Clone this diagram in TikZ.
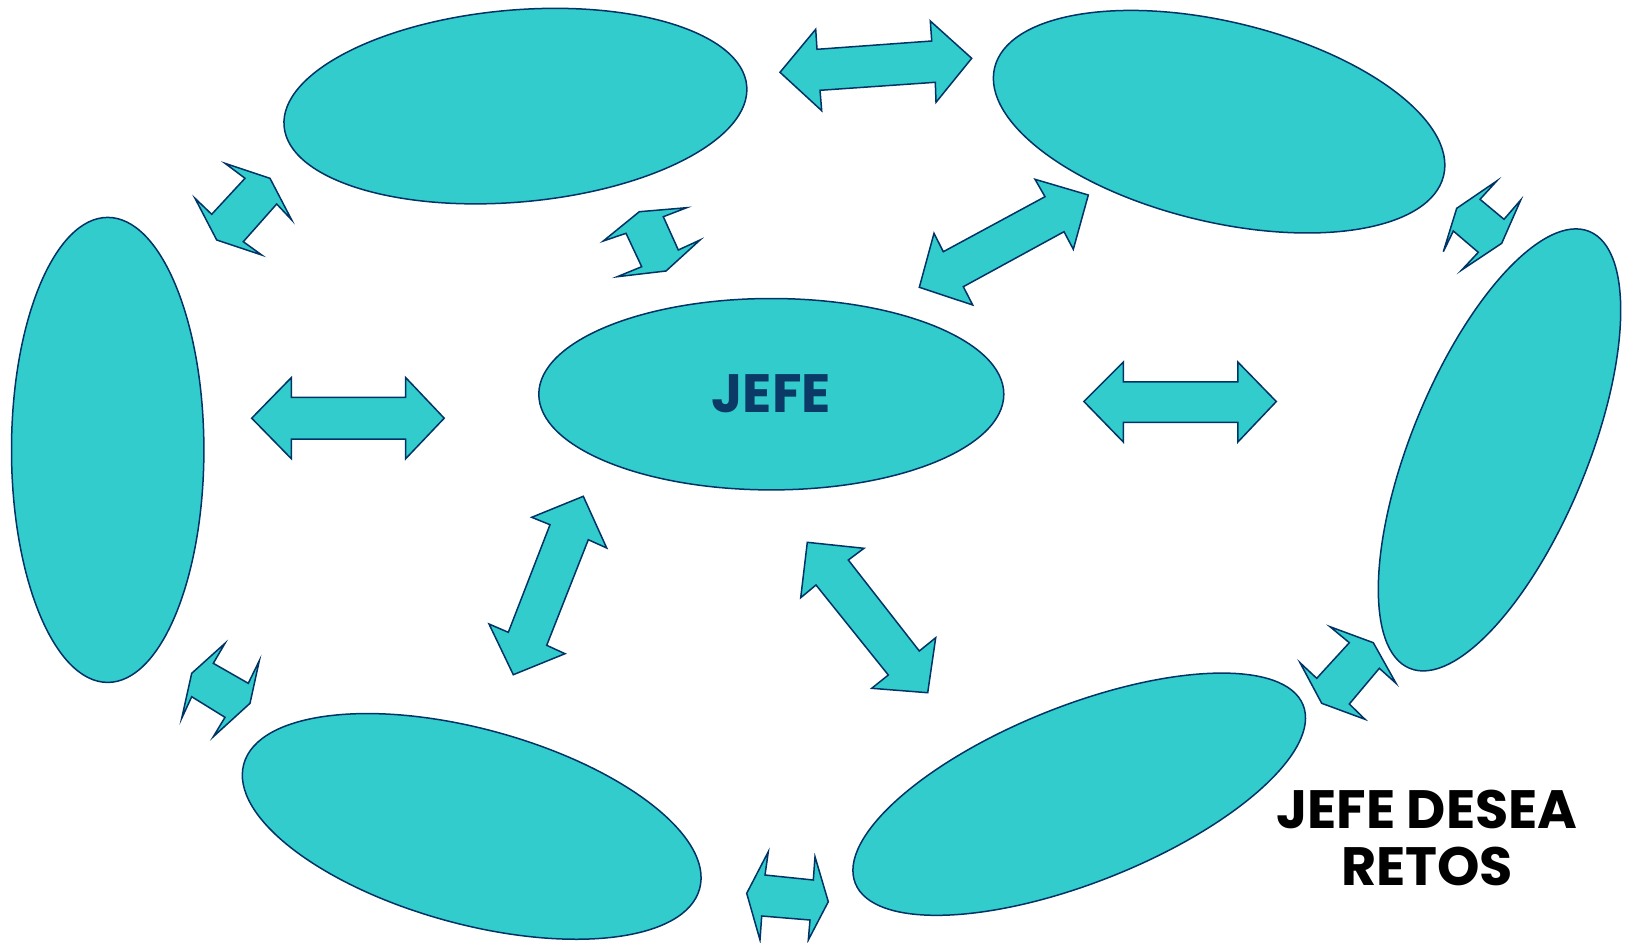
\documentclass[tikz,border=0pt]{standalone}
\usepackage{fontspec}
\setmainfont{Poppins}
\usetikzlibrary{shapes.geometric}
\definecolor{teal1}{RGB}{51,204,204}
\definecolor{navy1}{RGB}{0,51,102}
\definecolor{jefeblue}{RGB}{12,58,102}
\tikzset{
  bubble/.style={ellipse, draw=navy1, fill=teal1, line width=0.75pt, inner sep=0pt},
  blockarrow/.style={draw=navy1, fill=teal1, line width=0.75pt, line join=miter},
  lbl/.style={font=\fontsize{27}{28.75}\selectfont\bfseries, align=center, inner sep=0pt}
}
\begin{document}
\begin{tikzpicture}[x=0.5pt,y=-0.5pt]
\useasboundingbox (0,0) rectangle (1631,942);
% ellipses
\node[bubble, minimum width=232.5pt, minimum height=95.7pt] (e0) at (771.3,394.2) {};
\node[bubble, minimum width=232.2pt, minimum height=96pt, rotate=5] (e1) at (515.4,106.1) {};
\node[bubble, minimum width=230.9pt, minimum height=100.1pt, rotate=-13.5] (e2) at (1219.1,121.7) {};
\node[bubble, minimum width=96.2pt, minimum height=232.5pt] (e3) at (107.7,449.9) {};
\node[bubble, minimum width=236.2pt, minimum height=88pt, rotate=67.65] (e4) at (1499.5,449.9) {};
\node[bubble, minimum width=236.3pt, minimum height=97.5pt, rotate=-15.3] (e5) at (471.7,826.4) {};
\node[bubble, minimum width=241pt, minimum height=88.3pt, rotate=21.7] (e6) at (1079.2,794.2) {};
% texts
\node[lbl, text=jefeblue] (t0) at (771.3,393.7) {JEFE};
\node[lbl, text=black] (t1) at (1427,838) {JEFE DESEA\\RETOS};
% block arrows
% e1-e2
\draw[blockarrow] (780,72.3) -- (815.7,29.3) -- (817,49.3) -- (931.7,41) -- (930.3,21) -- (971.7,58.3) -- (936,102.3) -- (935.3,82.3) -- (820,90.3) -- (821.7,110.7) -- cycle;
% e1-e3
\draw[blockarrow] (225,163.3) -- (270,178.3) -- (291.7,220) -- (276.7,204) -- (243.3,241.7) -- (261.7,255) -- (216.7,240) -- (195,198.3) -- (211.7,214.3) -- (245,178.3) -- cycle;
% e1-e0
\draw[blockarrow] (603.3,241) -- (639.3,211.7) -- (686.7,207.7) -- (663.3,216.7) -- (678.3,250) -- (700,240) -- (666,271) -- (617.3,276.7) -- (641.7,266.7) -- (626,233.3) -- cycle;
% e2-e0
\draw[blockarrow] (919.3,287.3) -- (934,233.3) -- (943.3,251.7) -- (1045,196.7) -- (1035,179.3) -- (1088.3,195) -- (1073.3,249.3) -- (1064,231.7) -- (963.3,286.7) -- (972.7,305) -- cycle;
% e2-e4
\draw[blockarrow] (1456.7,208.3) -- (1496.7,181) -- (1480,199.3) -- (1504,219.3) -- (1520.7,200) -- (1501.7,243.3) -- (1461.7,270) -- (1478.3,252.3) -- (1453.3,231) -- (1443.3,251.7) -- cycle;
% e3-e0
\draw[blockarrow] (251.7,418.2) -- (291.3,377.6) -- (291.3,397.4) -- (405.7,397.4) -- (405.7,377.6) -- (444.2,418.2) -- (405.7,458.7) -- (405.7,439) -- (291.3,439) -- (291.3,458.7) -- cycle;
% e0-e4
\draw[blockarrow] (1083.9,401.5) -- (1123.4,362) -- (1123.4,381.8) -- (1237.8,381.8) -- (1237.8,362) -- (1276.3,401.5) -- (1237.8,442.1) -- (1237.8,422.3) -- (1123.4,422.3) -- (1123.4,442.1) -- cycle;
% e0-e5
\draw[blockarrow] (583.3,496.3) -- (606.7,548) -- (588.3,539.7) -- (546.7,645.3) -- (565,653.7) -- (513.3,674.7) -- (489,624) -- (508.3,632.3) -- (550,524.7) -- (531.7,517.3) -- cycle;
% e0-e6
\draw[blockarrow] (807.3,542.3) -- (864,548.3) -- (848.3,560) -- (919.3,651) -- (935.7,637.7) -- (927.7,692.7) -- (871.7,688.3) -- (888.3,675) -- (816,585) -- (800.7,597.7) -- cycle;
% e3-e5
\draw[blockarrow] (225,643.3) -- (213.3,663.3) -- (248.3,683.3) -- (259.3,660.7) -- (250,703.3) -- (213.3,736.7) -- (225,717.3) -- (191.7,696.7) -- (181.7,718.3) -- (191.7,673.3) -- cycle;
% e4-e6
\draw[blockarrow] (1330,626.7) -- (1373.3,642.7) -- (1396,683.3) -- (1379.3,668.3) -- (1349.3,704) -- (1365,719.3) -- (1321.7,703.3) -- (1300,662.7) -- (1316.7,678.3) -- (1349.3,642.7) -- cycle;
% e5-e6
\draw[blockarrow] (746.7,893.3) -- (768.3,851.7) -- (765,875) -- (813.3,880) -- (815,856.7) -- (828.3,901.7) -- (808.3,940) -- (810,920) -- (761.7,916) -- (760,940) -- cycle;
\end{tikzpicture}
\end{document}
